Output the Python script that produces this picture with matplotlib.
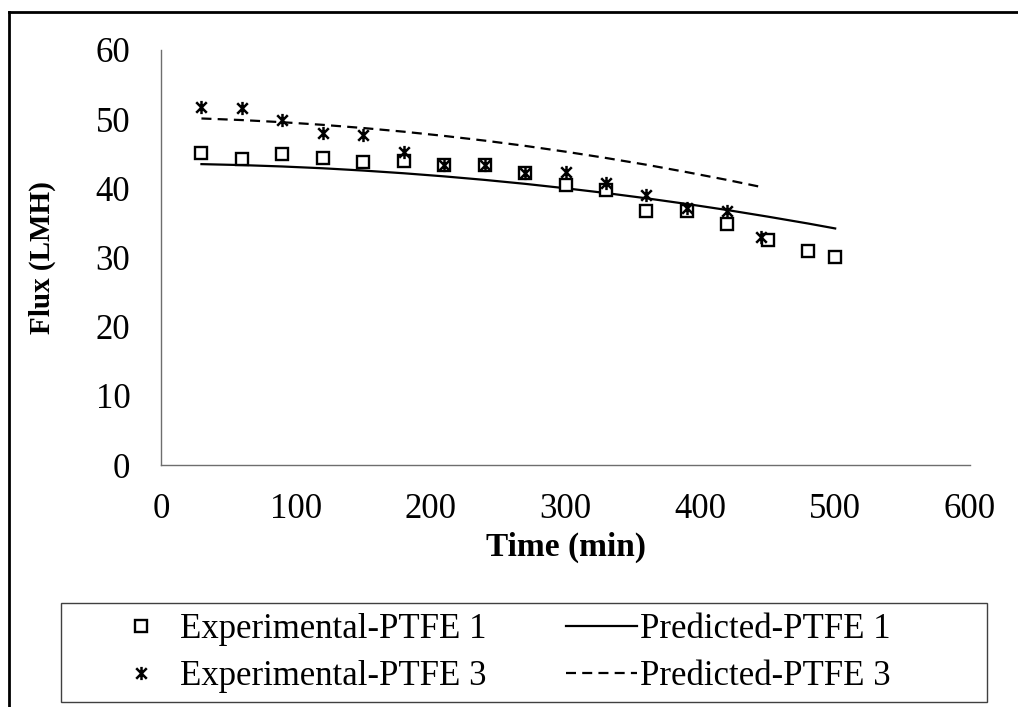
import numpy as np
import matplotlib
matplotlib.use("Agg")
import matplotlib.pyplot as plt
from matplotlib.path import Path
from matplotlib.lines import Line2D
from matplotlib.patches import Rectangle

# Measured flux for the two membranes
time_exp1 = [30, 60, 90, 120, 150, 180, 210, 240, 270, 300, 330, 360, 390, 420, 450, 480, 500]
flux_exp1 = [45.1, 44.3, 44.9, 44.4, 43.8, 43.9, 43.4, 43.4, 42.2, 40.5, 39.8, 36.7, 36.7, 34.9, 32.5, 30.9, 30.1]

time_exp3 = [30, 60, 90, 120, 150, 180, 210, 240, 270, 300, 330, 360, 390, 420, 445]
flux_exp3 = [51.8, 51.6, 49.9, 48.0, 47.7, 45.3, 43.4, 43.4, 42.2, 42.4, 40.7, 39.0, 37.1, 36.7, 33.0]

# Model predictions
time_pred1 = [30, 60, 90, 120, 150, 180, 210, 240, 270, 300, 330, 360, 390, 420, 450, 480, 500]
flux_pred1 = [43.50, 43.36, 43.16, 42.90, 42.57, 42.18, 41.73, 41.22, 40.65, 40.01, 39.32, 38.56, 37.74, 36.86, 35.91, 34.91, 34.20]

time_pred3 = [30, 60, 90, 120, 150, 180, 210, 240, 270, 300, 330, 360, 390, 420, 445]
flux_pred3 = [50.10, 49.87, 49.56, 49.18, 48.72, 48.19, 47.58, 46.90, 46.14, 45.30, 44.39, 43.41, 42.34, 41.21, 40.20]

x_ticks = [0, 100, 200, 300, 400, 500, 600]
y_ticks = [0, 10, 20, 30, 40, 50, 60]

plt.rcParams['font.family'] = ['Liberation Serif', 'DejaVu Serif']

W, H = 1018, 707
fig = plt.figure(figsize=(W / 100, H / 100), dpi=100)
ax = fig.add_axes([161 / W, 1 - 465 / H, (970 - 161) / W, (465 - 50) / H])

# Excel-style star: an X with a vertical bar through it
star = Path([(-1, -1), (1, 1), (-1, 1), (1, -1), (0, -1.25), (0, 1.25)],
            [Path.MOVETO, Path.LINETO, Path.MOVETO, Path.LINETO, Path.MOVETO, Path.LINETO])

ax.plot(time_exp1, flux_exp1, ls='none', marker='s', ms=8.5, mfc='white', mec='black', mew=1.7,
        label='Experimental-PTFE 1', zorder=3)
ax.plot(time_pred1, flux_pred1, color='black', lw=1.6, label='Predicted-PTFE 1')
ax.plot(time_exp3, flux_exp3, ls='none', marker=star, ms=9.5, mfc='none', mec='black', mew=1.8,
        label='Experimental-PTFE 3', zorder=4)
ax.plot(time_pred3, flux_pred3, color='black', lw=1.6, ls=(0, (4.5, 2.8)), label='Predicted-PTFE 3')

ax.set_xlim(0, 600)
ax.set_ylim(0, 60)
ax.set_xticks(x_ticks)
ax.set_yticks(y_ticks)
ax.tick_params(length=0, labelsize=25)
ax.tick_params(axis='x', pad=20)
ax.tick_params(axis='y', pad=22)
for side in ['top', 'right']:
    ax.spines[side].set_visible(False)
for side in ['left', 'bottom']:
    ax.spines[side].set_color('#6e6e6e')
    ax.spines[side].set_linewidth(1.0)

ax.set_xlabel('Time (min)', fontsize=24, fontweight='bold', va='center', ha='center')
ax.set_ylabel('Flux (LMH)', fontsize=21, fontweight='bold', va='center', ha='center')
ax.xaxis.set_label_coords(0.5, (465 - 547) / 415)
ax.yaxis.set_label_coords((42 - 161) / 809, 0.5)

handles, labels = ax.get_legend_handles_labels()
order = [0, 2, 1, 3]
fig.legend([handles[i] for i in order], [labels[i] for i in order],
           loc='center', bbox_to_anchor=(498 / W, 1 - 653 / H), ncol=2,
           frameon=False, fontsize=25, handlelength=2.05, handletextpad=0.08,
           columnspacing=2.3, labelspacing=0.42, borderpad=0)

# legend frame and the outer border
fig.add_artist(Rectangle((60.7 / W, 1 - 701.7 / H), (986.7 - 60.7) / W, (701.7 - 602.7) / H,
                         transform=fig.transFigure, fill=False, ec='#404040', lw=1.0))
fig.add_artist(Line2D([9 / W, 9 / W], [0, 1 - 12 / H], transform=fig.transFigure, color='black', lw=2))
fig.add_artist(Line2D([9 / W, 1], [1 - 12 / H, 1 - 12 / H], transform=fig.transFigure, color='black', lw=2))

fig.savefig('out.png', dpi=100)
